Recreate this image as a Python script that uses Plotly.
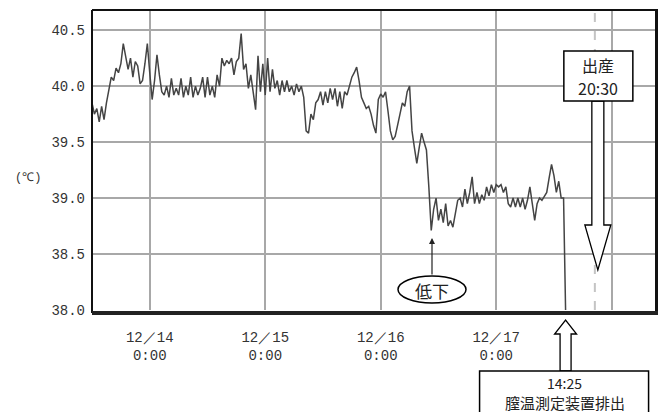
import pandas as pd
import plotly.graph_objects as go

# ---------------- data ----------------
start_time = "2008-12-13 12:00"
step = "30min"
temps = [
    39.85, 39.75, 39.80, 39.68, 39.82, 39.70, 39.85, 39.95, 40.08, 40.05, 40.16, 40.12,
    40.20, 40.38, 40.28, 40.15, 40.25, 40.08, 40.22, 40.18, 40.02, 40.05, 40.20, 40.38,
    40.12, 39.88, 40.05, 40.28, 40.10, 39.95, 39.92, 40.00, 39.90, 40.07, 39.92, 39.98,
    39.92, 40.07, 39.90, 40.00, 39.92, 40.08, 39.90, 40.00, 39.92, 39.98, 40.08, 39.90,
    40.08, 39.92, 40.00, 39.90, 40.10, 40.00, 40.25, 40.18, 40.23, 40.20, 40.25, 40.10,
    40.22, 40.25, 40.47, 40.15, 40.20, 39.98, 40.10, 39.95, 39.79, 40.27, 39.95, 40.20,
    39.92, 40.25, 39.95, 40.15, 39.98, 40.05, 39.92, 40.05, 39.95, 40.05, 39.95, 40.00,
    39.92, 40.02, 39.95, 40.00, 39.90, 39.60, 39.58, 39.75, 39.70, 39.85, 39.88, 39.95,
    39.83, 39.95, 39.85, 39.98, 39.88, 39.98, 39.82, 39.95, 39.80, 39.95, 39.92, 40.00,
    40.08, 40.12, 40.17, 40.05, 39.90, 39.85, 39.80, 39.82, 39.75, 39.65, 39.58, 39.88,
    39.93, 39.90, 39.95, 39.78, 39.60, 39.52, 39.55, 39.65, 39.75, 39.85, 39.82, 39.95,
    40.00, 39.60, 39.45, 39.31, 39.45, 39.58, 39.50, 39.43, 39.10, 38.71, 38.90, 39.00,
    38.80, 38.90, 38.78, 38.95, 38.75, 38.80, 38.74, 38.85, 38.98, 39.00, 38.92, 39.08,
    38.95, 39.05, 39.19, 38.95, 39.05, 38.95, 39.03, 38.98, 39.10, 39.02, 39.12, 39.05,
    39.12, 39.10, 39.12, 39.05, 39.10, 38.95, 38.92, 39.00, 38.92, 39.00, 38.92, 39.00,
    38.90, 38.98, 39.10, 38.95, 38.80, 38.95, 39.00, 38.98, 39.02, 39.05, 39.18, 39.30,
    39.20, 39.05, 39.15, 39.00, 39.00,
]
removal_time = "2008-12-17 14:25"
removal_temp = 38.0
birth_time = "2008-12-17 20:30"

x_tick_vals = ["2008-12-14 00:00", "2008-12-15 00:00", "2008-12-16 00:00",
               "2008-12-17 00:00", "2008-12-18 00:00"]
x_tick_text = ["12／14<br>0:00", "12／15<br>0:00", "12／16<br>0:00", "12／17<br>0:00", ""]
y_tick_vals = [38.0, 38.5, 39.0, 39.5, 40.0, 40.5]
y_tick_text = ["38.0", "38.5", "39.0", "39.5", "40.0", "40.5"]
y_title = "(℃)"
birth_label_lines = ["出産", "20:30"]
removal_label_lines = ["14:25", "膣温測定装置排出"]
drop_label = "低下"

x_range = ["2008-12-13 12:00", "2008-12-18 09:00"]
y_range = [38.0, 40.68]

# ---------------- build ----------------
times = list(pd.date_range(start_time, periods=len(temps), freq=step)) + [pd.Timestamp(removal_time)]
values = temps + [removal_temp]

W, H = 660, 412
L, R, T, B = 92, 655, 10, 310


def px(x):
    return (x - L) / (R - L)


def py(y):
    return (B - y) / (B - T)


t0, t1 = pd.Timestamp(x_range[0]), pd.Timestamp(x_range[1])


def tpix(t):
    t = pd.Timestamp(t)
    return L + (t - t0) / (t1 - t0) * (R - L)


def path(points):
    return "M " + " L ".join(f"{px(x):.5f},{py(y):.5f}" for x, y in points) + " Z"


fig = go.Figure()
fig.add_trace(go.Scatter(x=times, y=values, mode="lines",
                         line=dict(color="#444444", width=1.5), hoverinfo="skip",
                         showlegend=False))

shapes = []
# birth dashed marker
shapes.append(dict(type="line", xref="x", yref="paper", x0=birth_time, x1=birth_time, y0=0, y1=1,
                   line=dict(color="#c4c4c4", width=2, dash="dash"), layer="between"))
# plot frame
shapes += [
    dict(type="line", xref="paper", yref="paper", x0=0, x1=0, y0=py(B + 3), y1=1,
         line=dict(color="#111111", width=2)),
    dict(type="line", xref="paper", yref="paper", x0=0, x1=px(R + 3), y0=1, y1=1,
         line=dict(color="#111111", width=2)),
    dict(type="line", xref="paper", yref="paper", x0=px(R + 1.5), x1=px(R + 1.5), y0=py(B + 4), y1=1,
         line=dict(color="#111111", width=3)),
    dict(type="line", xref="paper", yref="paper", x0=0, x1=px(R + 3), y0=py(B + 3), y1=py(B + 3),
         line=dict(color="#222222", width=4)),
]

# birth hollow arrow (down)
bc = tpix(birth_time) + 3
shapes.append(dict(type="path", xref="paper", yref="paper", layer="above",
                   path=path([(bc - 6, 101), (bc + 6, 101), (bc + 6, 225), (bc + 13, 225),
                              (bc, 270), (bc - 13, 225), (bc - 6, 225)]),
                   fillcolor="white", line=dict(color="black", width=1.3)))
shapes.append(dict(type="rect", xref="paper", yref="paper", layer="above",
                   x0=px(bc - 34), x1=px(bc + 35), y0=py(101), y1=py(51),
                   fillcolor="white", line=dict(color="black", width=1.5)))

# removal hollow arrow (up)
rc = tpix(removal_time)
shapes.append(dict(type="path", xref="paper", yref="paper", layer="above",
                   path=path([(rc - 5.5, 371), (rc + 5.5, 371), (rc + 5.5, 334), (rc + 11, 334),
                              (rc, 320), (rc - 11, 334), (rc - 5.5, 334)]),
                   fillcolor="white", line=dict(color="black", width=1.3)))
shapes.append(dict(type="rect", xref="paper", yref="paper", layer="above",
                   x0=px(rc - 86), x1=px(rc + 83), y0=py(420), y1=py(371),
                   fillcolor="white", line=dict(color="black", width=1.5)))

# drop ellipse
shapes.append(dict(type="circle", xref="paper", yref="paper", layer="above",
                   x0=px(398), x1=px(466), y0=py(303), y1=py(276),
                   fillcolor="white", line=dict(color="black", width=1.5)))

jp = "Noto Sans CJK JP"
annotations = [
    dict(xref="paper", yref="paper", x=px(bc + 0.5), y=py(65), text=birth_label_lines[0], showarrow=False,
         font=dict(family=jp, size=16, color="#222222"), xanchor="center", yanchor="middle"),
    dict(xref="paper", yref="paper", x=px(bc + 0.5), y=py(88), text=birth_label_lines[1], showarrow=False,
         font=dict(family=jp, size=16, color="#222222"), xanchor="center", yanchor="middle"),
    dict(xref="paper", yref="paper", x=px(rc - 1), y=py(383), text=removal_label_lines[0], showarrow=False,
         font=dict(family=jp, size=14, color="#222222"), xanchor="center", yanchor="middle"),
    dict(xref="paper", yref="paper", x=px(rc - 1), y=py(402), text=removal_label_lines[1], showarrow=False,
         font=dict(family=jp, size=15, color="#222222"), xanchor="center", yanchor="middle"),
    dict(xref="paper", yref="paper", x=px(432), y=py(290), text=drop_label, showarrow=False,
         font=dict(family=jp, size=17, color="#222222"), xanchor="center", yanchor="middle"),
    dict(xref="paper", yref="paper", x=px(432), y=py(238), text="", showarrow=True,
         ax=0, ay=38, arrowhead=2, arrowsize=1, arrowwidth=1.2, arrowcolor="#222222"),
    dict(xref="paper", yref="paper", x=px(28), y=py(178), text=y_title, showarrow=False,
         font=dict(family="Liberation Mono", size=12, color="#333333"),
         xanchor="center", yanchor="middle"),
]

fig.update_layout(
    width=W, height=H,
    margin=dict(l=L, r=W - R, t=T, b=H - B, pad=0),
    paper_bgcolor="white", plot_bgcolor="white",
    shapes=shapes, annotations=annotations,
    showlegend=False,
    xaxis=dict(type="date", range=x_range, tickvals=x_tick_vals, ticktext=x_tick_text,
               showgrid=True, gridcolor="#a8a8a8", gridwidth=2, zeroline=False,
               showline=False, ticks="", ticklabelstandoff=17,
               tickfont=dict(family="Liberation Mono", size=14, color="#333333")),
    yaxis=dict(range=y_range, tickvals=y_tick_vals, ticktext=y_tick_text,
               showgrid=True, gridcolor="#a8a8a8", gridwidth=2, zeroline=False,
               showline=False, ticks="", ticklabelstandoff=6,
               tickfont=dict(family="Liberation Mono", size=14, color="#333333")),
)

fig.write_html("out.html")
